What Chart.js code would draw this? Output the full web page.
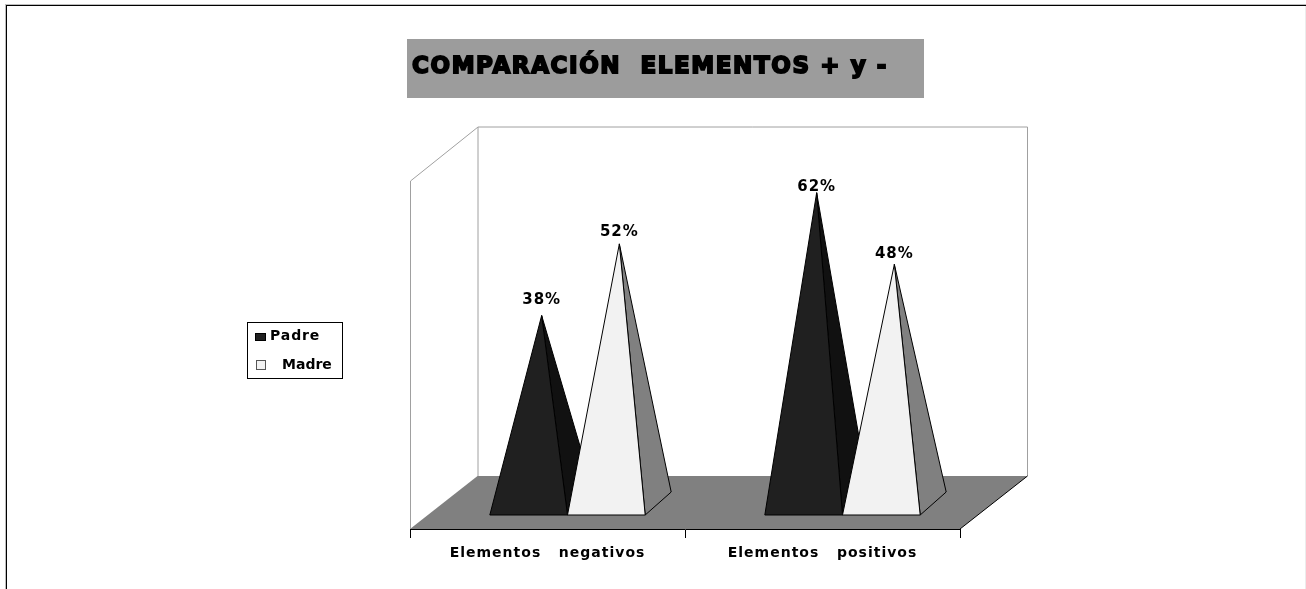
<!DOCTYPE html>
<html>
<head>
<meta charset="utf-8">
<style>
  html, body { margin: 0; padding: 0; background: #fff; overflow: hidden; }
  canvas { display: block; }
</style>
<script src="https://cdn.jsdelivr.net/npm/chart.js@4/dist/chart.umd.min.js"></script>
</head>
<body>
<canvas id="chart" width="1306" height="589"></canvas>
<script>
const titleText = "COMPARACIÓN  ELEMENTOS + y -";
const categories = ["Elementos   negativos", "Elementos   positivos"];
const padreValues = [38, 62];
const madreValues = [52, 48];
const padreName = "Padre";
const madreName = "Madre";

const fontName = "'DejaVu Sans', sans-serif";

// depth of the fake 3D box, in pixels
const depthX = 67.5;
const depthY = 53;

// how the pyramid foot sits on the floor, seen from the front plane of the axes
const baseFront = { dx: 20, dy: 14 };
const baseBack = { dx: 46, dy: 37 };
const apexShift = { dx: 33, dy: 19 };

// gap between tip and percent label, per series and category
const labelLift = [[15, 6], [12, 10]];

const faceColors = [
    { front: "#202020", side: "#111111" },
    { front: "#f2f2f2", side: "#808080" }
];

function poly(ctx, pts, fill) {
    ctx.beginPath();
    ctx.moveTo(pts[0][0], pts[0][1]);
    pts.slice(1).forEach(p => ctx.lineTo(p[0], p[1]));
    ctx.closePath();
    ctx.fillStyle = fill;
    ctx.fill();
    ctx.strokeStyle = "#000";
    ctx.lineWidth = 1;
    ctx.stroke();
}

// page frame, walls and floor go under everything
const boxPlugin = {
    id: "box",
    beforeDraw(chart) {
        const ctx = chart.ctx;
        const a = chart.chartArea;
        ctx.save();

        ctx.fillStyle = "#000";
        ctx.fillRect(6, 5, 1300, 1);
        ctx.fillRect(6, 5, 1, 584);
        ctx.fillStyle = "#bdbdbd";
        ctx.fillRect(5, 4, 1301, 1);
        ctx.fillRect(5, 4, 1, 585);
        ctx.fillStyle = "#ececec";
        ctx.fillRect(1305, 6, 1, 583);

        // floor
        ctx.beginPath();
        ctx.moveTo(a.left, a.bottom);
        ctx.lineTo(a.right, a.bottom);
        ctx.lineTo(a.right + depthX, a.bottom - depthY);
        ctx.lineTo(a.left + depthX, a.bottom - depthY);
        ctx.closePath();
        ctx.fillStyle = "#808080";
        ctx.fill();

        // walls
        ctx.strokeStyle = "#a0a0a0";
        ctx.lineWidth = 1;
        ctx.beginPath();
        ctx.moveTo(a.left + 0.5, a.bottom);
        ctx.lineTo(a.left + 0.5, a.top);
        ctx.lineTo(a.left + depthX + 0.5, a.top - depthY - 1);
        ctx.lineTo(a.right + depthX, a.top - depthY - 1);
        ctx.lineTo(a.right + depthX, a.bottom - depthY);
        ctx.moveTo(a.left + depthX + 0.5, a.top - depthY - 1);
        ctx.lineTo(a.left + depthX + 0.5, a.bottom - depthY);
        ctx.stroke();

        // dark edge on the right of the floor
        ctx.strokeStyle = "#000";
        ctx.beginPath();
        ctx.moveTo(a.right, a.bottom);
        ctx.lineTo(a.right + depthX, a.bottom - depthY);
        ctx.stroke();
        ctx.restore();

        // tick labels are tracked out wider than the font
        ctx.letterSpacing = "1px";
    }
};

// the bars are invisible, their geometry from the scales gives the pyramids
const pyramidPlugin = {
    id: "pyramids",
    afterDatasetsDraw(chart) {
        const ctx = chart.ctx;
        ctx.save();
        chart.data.datasets.forEach((ds, i) => {
            chart.getDatasetMeta(i).data.forEach((bar, j) => {
                const left = bar.x - bar.width / 2;
                const right = bar.x + bar.width / 2;
                const fl = [left + baseFront.dx, bar.base - baseFront.dy];
                const fr = [right + baseFront.dx, bar.base - baseFront.dy];
                const br = [right + baseBack.dx, bar.base - baseBack.dy];
                const apex = [bar.x + apexShift.dx, bar.y - apexShift.dy];
                poly(ctx, [fr, br, apex], faceColors[i].side);
                poly(ctx, [fl, fr, apex], faceColors[i].front);
            });
        });
        chart.data.datasets.forEach((ds, i) => {
            chart.getDatasetMeta(i).data.forEach((bar, j) => {
                ctx.font = "bold 15px " + fontName;
                ctx.letterSpacing = "1px";
                ctx.fillStyle = "#000";
                ctx.textAlign = "center";
                ctx.textBaseline = "middle";
                ctx.fillText(ds.data[j] + "%", bar.x + apexShift.dx, bar.y - apexShift.dy - labelLift[i][j]);
            });
        });
        ctx.restore();
    }
};

const titleLegendPlugin = {
    id: "titleLegend",
    afterDraw(chart) {
        const ctx = chart.ctx;
        ctx.save();

        ctx.fillStyle = "#9c9c9c";
        ctx.fillRect(407, 39, 517, 59);
        ctx.font = "bold 23px " + fontName;
        ctx.letterSpacing = "1.6px";
        ctx.fillStyle = "#000";
        ctx.strokeStyle = "#000";
        ctx.lineWidth = 1.8;
        ctx.textAlign = "left";
        ctx.textBaseline = "alphabetic";
        ctx.strokeText(titleText, 412, 73);
        ctx.fillText(titleText, 412, 73);

        ctx.fillStyle = "#fff";
        ctx.strokeStyle = "#000";
        ctx.lineWidth = 1;
        ctx.fillRect(247, 322, 95, 56);
        ctx.strokeRect(247.5, 322.5, 95, 56);

        ctx.fillStyle = "#202020";
        ctx.fillRect(255.5, 333.5, 10, 7);
        ctx.strokeRect(255.5, 333.5, 10, 7);
        ctx.fillStyle = "#f2f2f2";
        ctx.fillRect(256.5, 360.5, 9, 9);
        ctx.strokeStyle = "#555";
        ctx.strokeRect(256.5, 360.5, 9, 9);

        ctx.font = "bold 14px " + fontName;
        ctx.fillStyle = "#000";
        ctx.textBaseline = "middle";
        ctx.letterSpacing = "0.9px";
        ctx.fillText(chart.data.datasets[0].label, 270, 336);
        ctx.letterSpacing = "0px";
        ctx.fillText(chart.data.datasets[1].label, 282, 365);
        ctx.restore();
    }
};

new Chart(document.getElementById("chart"), {
    type: "bar",
    data: {
        labels: categories,
        datasets: [
            { label: padreName, data: padreValues, backgroundColor: "rgba(0,0,0,0)" },
            { label: madreName, data: madreValues, backgroundColor: "rgba(0,0,0,0)" }
        ]
    },
    options: {
        responsive: false,
        animation: false,
        events: [],
        categoryPercentage: 0.565,
        barPercentage: 1,
        // puts the chart area at x 410..960, y 181..529
        layout: { padding: { left: 410, right: 346, top: 181, bottom: 0 } },
        plugins: {
            legend: { display: false },
            title: { display: false },
            tooltip: { enabled: false }
        },
        scales: {
            x: {
                border: { display: true, color: "#000", width: 1 },
                grid: { drawOnChartArea: false, drawTicks: true, tickLength: 9, color: "#000" },
                ticks: {
                    color: "#000",
                    maxRotation: 0,
                    padding: 7,
                    font: { family: fontName, size: 14, weight: "bold" }
                },
                afterFit(scale) { scale.height = 60; }
            },
            y: {
                display: false,
                min: 0,
                max: 68
            }
        }
    },
    plugins: [boxPlugin, pyramidPlugin, titleLegendPlugin]
});
</script>
</body>
</html>
